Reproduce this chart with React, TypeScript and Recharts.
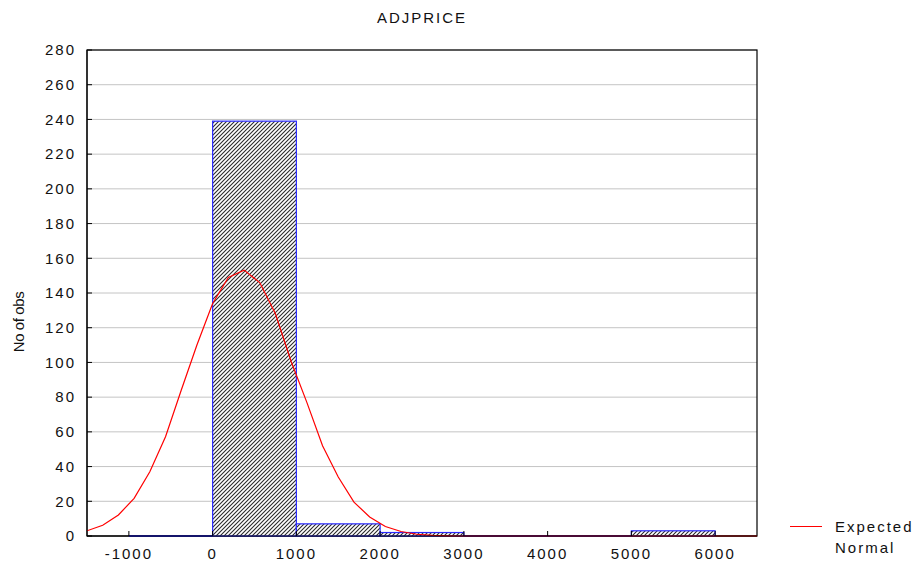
import React from 'react';
import {
  ComposedChart,
  Line,
  XAxis,
  YAxis,
  CartesianGrid,
  ReferenceArea,
} from 'recharts';

// histogram bins (width 1000) and observed counts
const binStarts = [-1000, 0, 1000, 2000, 3000, 4000, 5000];
const binCounts = [0, 239, 7, 2, 0, 0, 3];
const BIN_WIDTH = 1000;

// expected normal curve
const normalX = [
  -1500, -1312.5, -1125, -937.5, -750, -562.5, -375, -187.5, 0, 187.5, 375, 562.5,
  750, 937.5, 1125, 1312.5, 1500, 1687.5, 1875, 2062.5, 2250, 2437.5, 2625, 2812.5,
  3000, 6500,
];
const normalY = [
  3.0, 6.2, 12.1, 21.7, 37.0, 57.2, 84, 110, 134, 149, 153.2, 146,
  128, 100.5, 77, 52, 34, 19.5, 11, 5.5, 2.6, 1.0, 0.4, 0.1,
  0, 0,
];

const xDomain = [-1500, 6500];
const yDomain = [0, 280];
const xTicks = [-1000, 0, 1000, 2000, 3000, 4000, 5000, 6000];
const yTicks = [0, 20, 40, 60, 80, 100, 120, 140, 160, 180, 200, 220, 240, 260, 280];

const curveData = normalX.map((x, i) => ({ x, y: normalY[i] }));
const bins = binStarts.map((start, i) => ({ start, end: start + BIN_WIDTH, count: binCounts[i] }));

const FONT = '"Liberation Sans", Arial, sans-serif';
const tickStyle = { fontSize: 15, fill: '#111', fontFamily: FONT, letterSpacing: 2 };

const HatchBar = (props: any) => {
  const { x, y, width, height } = props;
  if (x == null || y == null) return null;
  if (!height) {
    return <line x1={x} x2={x + width} y1={y} y2={y} stroke="#1a1aff" strokeWidth={1.5} />;
  }
  return (
    <rect x={x} y={y} width={width} height={height} fill="url(#hatch)" stroke="#2a2aff" strokeWidth={1.2} />
  );
};

// black box round the plot area
const Frame = (props: any) => {
  const { x, y, width, height } = props;
  if (x == null || y == null) return null;
  return <rect x={x} y={y} width={width} height={height} fill="none" stroke="#000" strokeWidth={1.2} />;
};

export default function App() {
  return (
    <div style={{ position: 'absolute', left: 0, top: 0, width: 916, height: 566, background: '#fff', fontFamily: FONT }}>
      <svg width={0} height={0} style={{ position: 'absolute' }}>
        <defs>
          <pattern id="hatch" patternUnits="userSpaceOnUse" width={4} height={4}>
            <rect width={4} height={4} fill="#fff" />
            <path d="M-1,1 l2,-2 M0,4 l4,-4 M3,5 l2,-2" stroke="#2a2a2a" strokeWidth={1.1} />
          </pattern>
        </defs>
      </svg>

      <ComposedChart
        width={916}
        height={566}
        data={curveData}
        margin={{ top: 50, right: 159, bottom: 0, left: 0 }}
      >
        <CartesianGrid vertical={false} stroke="#c4c4c4" horizontalValues={yTicks} />
        <XAxis
          dataKey="x"
          type="number"
          domain={xDomain}
          ticks={xTicks}
          allowDataOverflow
          height={30}
          tickSize={-5}
          tickMargin={17}
          stroke="#000"
          tick={tickStyle}
        />
        <YAxis
          type="number"
          domain={yDomain}
          ticks={yTicks}
          width={87}
          tickSize={-5}
          tickMargin={16}
          stroke="#000"
          tick={tickStyle}
        />
        <ReferenceArea
          x1={xDomain[0]}
          x2={xDomain[1]}
          y1={yDomain[0]}
          y2={yDomain[1]}
          ifOverflow="visible"
          shape={Frame}
        />
        {bins.map((b) => (
          <ReferenceArea
            key={b.start}
            x1={b.start}
            x2={b.end}
            y1={0}
            y2={b.count}
            ifOverflow="visible"
            shape={HatchBar}
          />
        ))}
        <Line
          dataKey="y"
          type="linear"
          stroke="#ff0000"
          strokeWidth={1.2}
          dot={false}
          isAnimationActive={false}
        />
      </ComposedChart>

      <div style={{ position: 'absolute', left: 322, width: 200, top: 9, textAlign: 'center', fontSize: 15, letterSpacing: 2, color: '#111' }}>
        ADJPRICE
      </div>
      <div
        style={{
          position: 'absolute',
          left: 18,
          top: 322,
          transform: 'translate(-50%, -50%) rotate(-90deg)',
          fontSize: 15,
          letterSpacing: -0.4,
          whiteSpace: 'nowrap',
          color: '#111',
        }}
      >
        No of obs
      </div>
      <div style={{ position: 'absolute', left: 790, top: 526, width: 32, height: 1, background: '#ff0000' }} />
      <div style={{ position: 'absolute', left: 835, top: 516, fontSize: 15, letterSpacing: 2, lineHeight: '21px', color: '#111' }}>
        Expected
        <br />
        Normal
      </div>
    </div>
  );
}
